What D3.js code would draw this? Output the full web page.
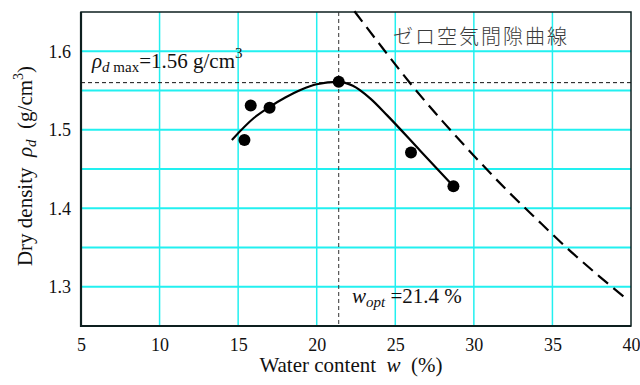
<!DOCTYPE html>
<html lang="ja">
<head>
  <meta charset="UTF-8">
  <title>Compaction curve</title>
  <script src="https://d3js.org/d3.v7.min.js"></script>
  <style>
    body { margin: 0; background: #fff; }
    svg text { font-family: "Liberation Serif", "Times New Roman", Times, "DejaVu Serif", serif; fill: #111; }
  </style>
</head>
<body>
  <svg id="chart" width="640" height="385"></svg>
  <script>
    // measured points (water content %, dry density g/cm3)
    const waterContent = [15.4, 15.8, 17.0, 21.4, 26.0, 28.7];
    const dryDensity = [1.487, 1.531, 1.528, 1.561, 1.471, 1.428];

    // fitted compaction curve
    const curveW = [14.6, 16.0, 17.0, 18.0, 19.0, 20.0, 21.4, 22.3, 23.4, 24.5, 26.6, 28.7];
    const curveRho = [1.487, 1.515, 1.529, 1.541, 1.551, 1.558, 1.561, 1.556, 1.540, 1.518, 1.473, 1.428];

    // zero air void curve
    const zavW = [22.4, 24, 26, 28, 30, 32, 34, 36, 38, 39.8];
    const zavRho = [1.651, 1.609, 1.558, 1.511, 1.467, 1.425, 1.386, 1.348, 1.313, 1.283];

    const xTicks = [5, 10, 15, 20, 25, 30, 35, 40];
    const yTicks = [1.3, 1.4, 1.5, 1.6];
    const xGrid = [10, 15, 20, 25, 30, 35];
    const yGrid = [1.3, 1.35, 1.4, 1.45, 1.5, 1.55, 1.6];

    const rhoMax = 1.56;
    const wOpt = 21.4;

    const serif = '"Liberation Serif", "Times New Roman", Times, "DejaVu Serif", serif';

    const svg = d3.select("svg#chart");
    const margin = {top: 12, right: 9, bottom: 59, left: 81};
    const width = +svg.attr("width") - margin.left - margin.right;
    const height = +svg.attr("height") - margin.top - margin.bottom;

    const x = d3.scaleLinear().domain([5, 40]).range([0, width]);
    const y = d3.scaleLinear().domain([1.25, 1.65]).range([height, 0]);

    const g = svg.append("g")
                 .attr("transform", `translate(${margin.left},${margin.top})`);

    // grid
    g.selectAll(".vgrid").data(xGrid).join("line")
      .attr("x1", d => x(d)).attr("x2", d => x(d))
      .attr("y1", 0).attr("y2", height)
      .attr("stroke", "#22f0f0").attr("stroke-width", 1.5);
    g.selectAll(".hgrid").data(yGrid).join("line")
      .attr("x1", 0).attr("x2", width)
      .attr("y1", d => y(d)).attr("y2", d => y(d))
      .attr("stroke", "#22f0f0").attr("stroke-width", 1.8);

    // frame
    g.append("rect")
      .attr("x", 0).attr("y", 0).attr("width", width).attr("height", height)
      .attr("fill", "none").attr("stroke", "#0d1f1f").attr("stroke-width", 1.5);
    g.append("path")
      .attr("d", `M0,0V${height}H${width}`)
      .attr("fill", "none").attr("stroke", "#0d1f1f").attr("stroke-width", 2.2);

    // axes labels (no tick marks)
    const xAxis = d3.axisBottom(x).tickValues(xTicks).tickSize(0).tickPadding(12);
    const xa = g.append("g").attr("transform", `translate(0,${height})`).call(xAxis)
                .attr("font-family", serif).attr("font-size", 18);
    xa.select(".domain").remove();
    xa.selectAll("text").attr("fill", "#111");

    const yAxis = d3.axisLeft(y).tickValues(yTicks).tickSize(0).tickPadding(10)
                    .tickFormat(d3.format(".1f"));
    const ya = g.append("g").call(yAxis)
                .attr("font-family", serif).attr("font-size", 18);
    ya.select(".domain").remove();
    ya.selectAll("text").attr("fill", "#111");

    // reference dashed lines
    g.append("line")
      .attr("x1", 0).attr("x2", width)
      .attr("y1", y(rhoMax)).attr("y2", y(rhoMax))
      .attr("stroke", "#111").attr("stroke-width", 1).attr("stroke-dasharray", "4,3");
    g.append("line")
      .attr("x1", x(wOpt)).attr("x2", x(wOpt))
      .attr("y1", 0).attr("y2", height)
      .attr("stroke", "#333").attr("stroke-width", 1).attr("stroke-dasharray", "4,3");

    // zero air void curve
    const zav = zavW.map((w, i) => [w, zavRho[i]]);
    g.append("path")
      .datum(zav)
      .attr("fill", "none").attr("stroke", "#000").attr("stroke-width", 2.2)
      .attr("stroke-dasharray", "13,7")
      .attr("d", d3.line().x(d => x(d[0])).y(d => y(d[1])).curve(d3.curveMonotoneX));

    // compaction curve
    const cc = curveW.map((w, i) => [w, curveRho[i]]);
    g.append("path")
      .datum(cc)
      .attr("fill", "none").attr("stroke", "#000").attr("stroke-width", 2.2)
      .attr("d", d3.line().x(d => x(d[0])).y(d => y(d[1])).curve(d3.curveMonotoneX));

    // data points
    g.selectAll(".pt").data(waterContent).join("circle")
      .attr("cx", d => x(d))
      .attr("cy", (d, i) => y(dryDensity[i]))
      .attr("r", 6)
      .attr("fill", "#000");

    // annotations
    const rl = g.append("text")
      .attr("x", 11).attr("y", 56)
      .style("font-size", "21px");
    rl.append("tspan").text("ρ").style("font-style", "italic");
    rl.append("tspan").text("d").style("font-style", "italic").style("font-size", "15px").attr("dy", 4);
    rl.append("tspan").text(" max").style("font-size", "15px");
    rl.append("tspan").text("=1.56 g/cm").attr("dy", -4);
    rl.append("tspan").text("3").style("font-size", "15px").attr("dy", -10);

    const wl = g.append("text")
      .attr("x", 271).attr("y", 291)
      .style("font-size", "21px");
    wl.append("tspan").text("w").style("font-style", "italic");
    wl.append("tspan").text("opt").style("font-style", "italic").style("font-size", "15px").attr("dy", 4);
    wl.append("tspan").text(" =21.4 %").attr("dy", -4);

    g.append("text")
      .attr("x", 312).attr("y", 32)
      .style("font-family", "'Noto Sans CJK JP', sans-serif")
      .style("font-size", "20px")
      .style("font-weight", "300")
      .style("letter-spacing", "2px")
      .style("fill", "#3a3a3a")
      .text("ゼロ空気間隙曲線");

    // axis titles
    const xt = svg.append("text")
      .attr("x", 351).attr("y", 372)
      .attr("text-anchor", "middle")
      .style("font-size", "21px")
      .style("white-space", "pre");
    xt.append("tspan").text("Water content  ");
    xt.append("tspan").text("w").style("font-style", "italic");
    xt.append("tspan").text("  (%)");

    const yt = svg.append("text")
      .attr("transform", "translate(32,166) rotate(-90)")
      .attr("text-anchor", "middle")
      .style("font-size", "21px")
      .style("white-space", "pre");
    yt.append("tspan").text("Dry density  ");
    yt.append("tspan").text("ρ").style("font-style", "italic");
    yt.append("tspan").text("d").style("font-style", "italic").style("font-size", "15px").attr("dy", 4);
    yt.append("tspan").text("  (g/cm").attr("dy", -4);
    yt.append("tspan").text("3").style("font-size", "14px").attr("dy", -9);
    yt.append("tspan").text(")").attr("dy", 9);
  </script>
</body>
</html>
